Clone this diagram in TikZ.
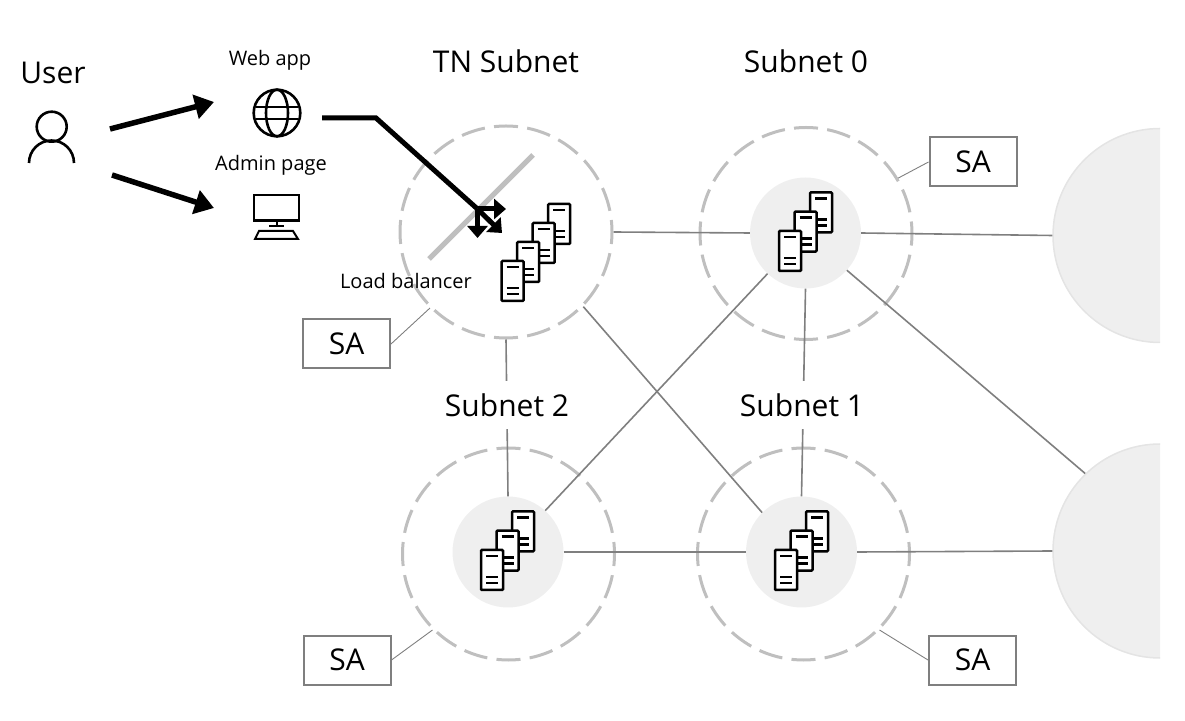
\documentclass[tikz,border=0pt]{standalone}
\usepackage{fontspec}
\setmainfont{Open Sans}
\usepackage{xcolor}
\usetikzlibrary{positioning,arrows.meta,calc}
\definecolor{ringgrey}{HTML}{BFBFBF}
\definecolor{linkgrey}{HTML}{7F7F7F}
\definecolor{discgrey}{HTML}{EFEFEF}
\definecolor{edgegrey}{HTML}{E4E4E4}
% one server of a rack, #1 and #2 give its top left corner
\newcommand{\serverunit}[2]{
  \draw[black,line width=2.5pt,fill=white,rounded corners=1pt] (#1,#2) rectangle ++(22,-40);
  \draw[black,line width=2.5pt] (#1+5,#2-6) -- ++(12,0) (#1+5,#2-27) -- ++(12,0) (#1+5,#2-33) -- ++(12,0);
}
\begin{document}
\begin{tikzpicture}[x=1pt,y=1pt,
  title/.style={font=\fontsize{30}{34}\selectfont,text=black,inner sep=0pt},
  small/.style={font=\fontsize{20}{24}\selectfont,text=black,inner sep=0pt},
  gapped/.style={title,fill=white,minimum height=48pt},
  ring/.style={circle,draw=ringgrey,line width=3pt,dash pattern=on 24pt off 9.3pt,dash phase=12pt,minimum size=212pt,inner sep=0pt},
  disc/.style={circle,fill=discgrey,minimum size=111pt,inner sep=0pt},
  bigdisc/.style={circle,fill=discgrey,draw=edgegrey,line width=1.5pt,minimum size=214pt,inner sep=0pt},
  sabox/.style={draw=linkgrey,line width=2pt,fill=white,minimum width=87pt,minimum height=49pt,font=\fontsize{30}{34}\selectfont,inner sep=0pt},
  link/.style={draw=linkgrey,line width=1.6pt},
  salink/.style={draw=linkgrey,line width=0.9pt},
  bold/.style={line width=5.5pt,-{Triangle[length=19pt,width=24pt]}},
  fork/.style={line width=5pt,-{Triangle[length=12pt,width=20pt]}},
  icon/.style={black,line width=2.6pt}]
\useasboundingbox (0,0) rectangle (1185,720);

% far subnets, cut off at the right
\begin{scope}
\clip (1000,0) rectangle (1160,720);
\node[bigdisc] (far0) at (1160,484.5) {};
\node[bigdisc] (far1) at (1160,169) {};
\end{scope}

% subnets
\node[ring] (tnring) at (506,488) {};
\node[ring] (ring0) at (806,486.5) {};
\node[ring] (ring2) at (508.5,166) {};
\node[ring] (ring1) at (803.5,166) {};
\node[disc] (disc0) at (805.5,487) {};
\node[disc] (disc2) at (508,168) {};
\node[disc] (disc1) at (801.5,168) {};

% links
\draw[link] (tnring.0) -- (disc0.180);
\draw[link] (disc0.0) -- (far0.180);
\draw[link] (disc2.0) -- (disc1.180);
\draw[link] (disc1.0) -- (far1.180);
\draw[link] (tnring.270) -- (disc2.90);
\draw[link] (disc0.270) -- (disc1.90);
\draw[link] (tnring.-44.6) -- (disc1.135);
\draw[link] (disc0.227) -- (disc2.48);
\draw[link] (disc0.-42) -- (far1.134);

% labels
\node[title] (usertxt) at (53,647) {User};
\node[small] (webtxt) at (270,660) {Web app};
\node[small] (admintxt) at (271,555) {Admin page};
\node[title] (tntxt) at (506,659) {TN Subnet};
\node[title] (txt0) at (806,659) {Subnet 0};
\node[gapped] (txt2) at (507,315) {Subnet 2};
\node[gapped] (txt1) at (802,315) {Subnet 1};
\node[small] (lbtxt) at (406,439) {Load balancer};

% SA boxes
\node[sabox] (sa0) at (973,558) {SA};
\node[sabox] (satn) at (346.5,376) {SA};
\node[sabox] (sa2) at (347,60) {SA};
\node[sabox] (sa1) at (972.5,60) {SA};
\draw[salink] (sa0.west) -- (ring0.31.6);
\draw[salink] (satn.east) -- (tnring.225);
\draw[salink] (sa2.east) -- (ring2.225);
\draw[salink] (sa1.west) -- (ring1.-45);

% user
\draw[icon] (51.7,593.3) circle (15);
\draw[icon] (29,557) arc (180:0:22.5);
% globe
\draw[icon] (277,607) circle (23.3);
\draw[icon] (277,607) ellipse (11 and 23.3);
\draw[icon] (256,613) -- (298,613) (256,601) -- (298,601);
% monitor
\draw[icon] (254,525) rectangle (299,499.5);
\draw[icon] (277,499) -- (277,494);
\draw[icon] (269,494) -- (284,494);
\draw[icon,line width=2pt] (259,489) -- (293,489) -- (298,481) -- (255,481) -- cycle;

% racks
\foreach \i in {3,2,1,0}{
  \serverunit{501.7+15.5*\i}{459+19*\i}
}
\foreach \cx/\cy in {779/489,481/170,775/170}{
  \foreach \i in {2,1,0}{
    \serverunit{\cx+15.5*\i}{\cy+19.3*\i}
  }
}

% load balancer and arrows
\draw[ringgrey,line width=5pt] (533,565) -- (429,461);
\coordinate (userout0) at (110,591);
\coordinate (userout1) at (112,545);
\coordinate (webin) at (214,618);
\coordinate (adminin) at (214,512);
\coordinate (webout) at (322,602);
\coordinate (bend) at (376,602);
\coordinate (hub) at (477.5,511);
\coordinate (forkright) at (506,511);
\coordinate (forkdiag) at (502,487);
\coordinate (forkdown) at (477.5,482);
\draw[bold] (userout0) -- (webin);
\draw[bold] (userout1) -- (adminin);
\draw[line width=5pt,line join=miter] (webout) -- (bend) -- (hub);
\draw[fork] (hub) -- (forkright);
\draw[fork] (hub) -- (forkdiag);
\draw[fork] (hub) -- (forkdown);
\end{tikzpicture}
\end{document}
